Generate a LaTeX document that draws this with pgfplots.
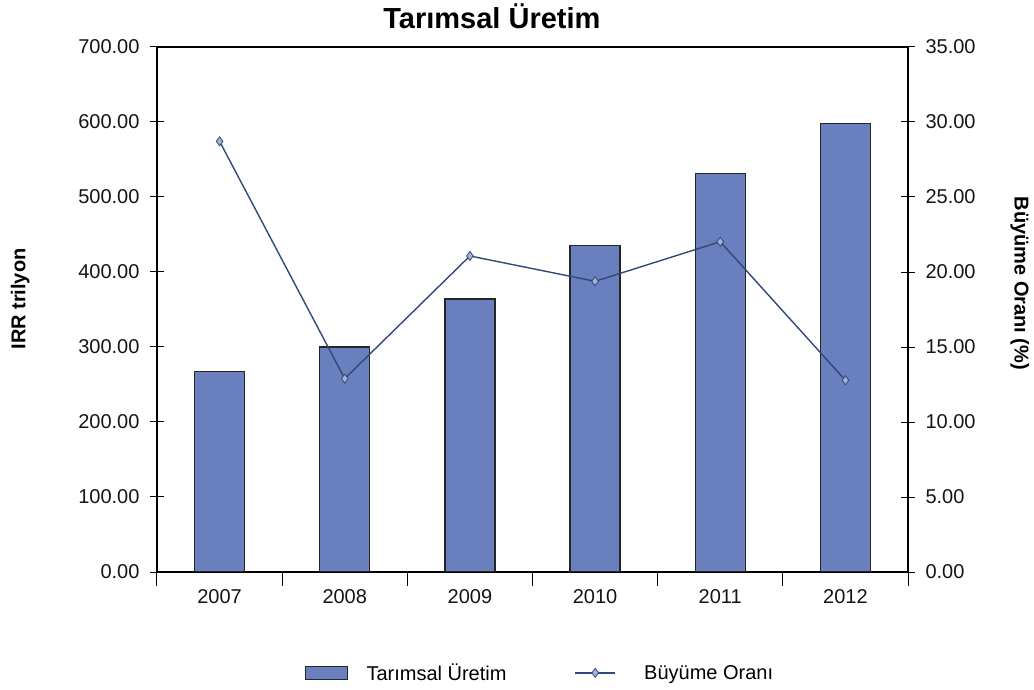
\documentclass[border=0pt]{standalone}
\usepackage{pgfplots}
\pgfplotsset{compat=1.18}
\usepackage{fontspec}
\setmainfont{Liberation Sans}
\definecolor{barblue}{RGB}{106,127,190}
\definecolor{linecol}{RGB}{47,74,122}
\definecolor{markfill}{RGB}{165,176,212}
\definecolor{txt}{RGB}{20,20,20}
\pgfplotsset{
  barlegend/.style={legend image code/.code={\draw[##1] (0bp,-6.5bp) rectangle (42bp,6.5bp); \path[draw=none,fill=none] (0bp,0bp) -- (59bp,0bp);}},
  linelegend/.style={legend image code/.code={\draw[mark repeat=2, mark phase=2, ##1] plot coordinates {(0bp,0bp) (20bp,0bp) (40bp,0bp)}; \path[draw=none,fill=none] (0bp,0bp) -- (67bp,0bp);}},
}
\begin{document}
\begin{tikzpicture}
\useasboundingbox (-157bp,-118bp) rectangle (877bp,572bp);
\begin{axis}[
  at={(0,0)}, anchor=south west, scale only axis,
  width=751bp, height=525bp,
  xmin=-0.5, xmax=5.5, ymin=0, ymax=700,
  xtick={0,1,2,3,4,5},
  xticklabels={2007,2008,2009,2010,2011,2012},
  major x tick style={draw=none},
  minor xtick={-0.5,0.5,1.5,2.5,3.5,4.5,5.5},
  xtick pos=bottom,
  ytick={0,100,...,700},
  ytick pos=left,
  tick align=center,
  major tick length=14bp, minor tick length=14bp,
  every tick/.style={black, line width=1bp},
  axis line style={black, line width=1.2bp},
  tick label style={font=\fontsize{20bp}{24bp}\selectfont, text=txt, /pgf/number format/assume math mode=true},
  yticklabel style={xshift=-7bp, /pgf/number format/.cd, fixed, fixed zerofill, precision=2},
  ylabel={IRR trilyon},
  ylabel style={at={(axis description cs:-0.182,0.52)}, anchor=center, font=\bfseries\fontsize{20bp}{24bp}\selectfont},
  title={Tarımsal Üretim},
  title style={at={(axis description cs:0.446,1.048)}, anchor=center, font=\bfseries\fontsize{29bp}{32bp}\selectfont},
  ybar, bar width=0.4,
]
\addplot[fill=barblue, draw=black!85, line width=1.3bp] coordinates {
  (0,267) (1,300) (2,364) (3,435) (4,531) (5,598)
};
\end{axis}
\begin{axis}[
  at={(0,0)}, anchor=south west, scale only axis,
  width=751bp, height=525bp,
  xmin=-0.5, xmax=5.5, ymin=0, ymax=35,
  axis x line=none,
  axis y line*=right,
  ytick={0,5,...,35},
  tick align=center,
  major tick length=14bp,
  every tick/.style={black, line width=1bp},
  axis line style={black, line width=1.2bp},
  tick label style={font=\fontsize{20bp}{24bp}\selectfont, text=txt, /pgf/number format/assume math mode=true},
  yticklabel style={xshift=7bp, /pgf/number format/.cd, fixed, fixed zerofill, precision=2},
  ylabel={Büyüme Oranı (\%)},
  ylabel style={at={(axis description cs:1.149,0.55)}, anchor=center, rotate=180, font=\bfseries\fontsize{20bp}{24bp}\selectfont},
  legend columns=2,
  legend style={at={(axis description cs:0.51,-0.192)}, anchor=center, draw=none, fill=none,
    font=\fontsize{20bp}{24bp}\selectfont,
    /tikz/every even column/.append style={column sep=66bp}},
]
\addlegendimage{fill=barblue, draw=black!85, line width=1.3bp, barlegend}
\addlegendentry{Tarımsal Üretim}
\addplot[color=linecol, line width=1.4bp, mark=diamond*, mark size=4.5bp,
  mark options={fill=markfill, draw=linecol, line width=0.8bp}, linelegend]
  coordinates {
  (0,28.71) (1,12.89) (2,21.07) (3,19.38) (4,22.02) (5,12.78)
};
\addlegendentry{Büyüme Oranı}
\end{axis}
\end{tikzpicture}
\end{document}
